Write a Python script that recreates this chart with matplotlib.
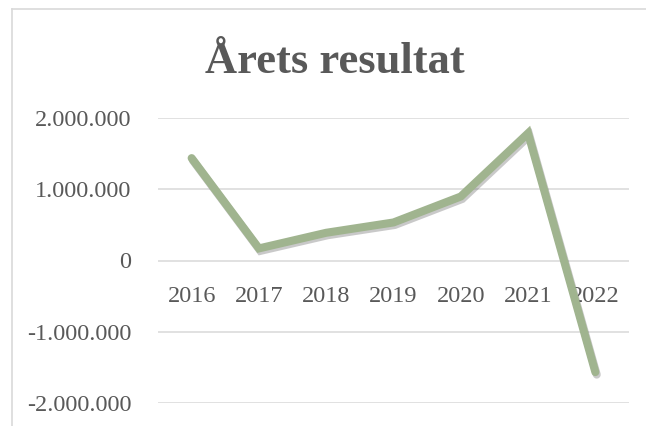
import matplotlib
matplotlib.use("Agg")
import matplotlib.pyplot as plt
import matplotlib.patheffects as pe
from matplotlib.lines import Line2D

years = ["2016", "2017", "2018", "2019", "2020", "2021", "2022"]
result = [1440000, 170000, 390000, 535000, 900000, 1790000, -1570000]
yticks = [-2000000, -1000000, 0, 1000000, 2000000]
ytick_labels = ["-2.000.000", "-1.000.000", "0", "1.000.000", "2.000.000"]

W, H = 646, 426
text_color = "#595959"
grid_color = "#D9D9D9"
line_color = "#A0B48F"
serif = ["Liberation Serif", "DejaVu Serif"]

fig = plt.figure(figsize=(W / 100, H / 100), dpi=100)
fig.patch.set_facecolor("white")

# chart area border (top and left visible, rest cropped)
fig.add_artist(Line2D([12 / W, 12 / W], [0, 1 - 9 / H], transform=fig.transFigure,
                      color=grid_color, lw=1.2))
fig.add_artist(Line2D([12 / W, 1], [1 - 9 / H, 1 - 9 / H], transform=fig.transFigure,
                      color=grid_color, lw=1.2))

# plot area
left, right = 158 / W, 629 / W
bottom, top = 1 - 402.7 / H, 1 - 118.3 / H
ax = fig.add_axes([left, bottom, right - left, top - bottom])
ax.set_xlim(-0.5, len(years) - 0.5)
ax.set_ylim(-2000000, 2000000)
for s in ax.spines.values():
    s.set_visible(False)
ax.set_xticks([])
ax.set_yticks(yticks)
ax.set_yticklabels(ytick_labels, fontfamily=serif, fontsize=17.5, color=text_color)
ax.tick_params(axis="y", length=0, pad=19)
for v in yticks:
    ax.axhline(v, color=grid_color, lw=1.1, zorder=1)

x = list(range(len(years)))
ax.plot(x, result, color=line_color, lw=5.8, solid_capstyle="round",
        solid_joinstyle="miter", zorder=3, clip_on=False,
        path_effects=[pe.SimpleLineShadow(offset=(1.0, -1.8), shadow_color="#404040", alpha=0.28),
                      pe.Normal()])

# category labels sit just below the zero line
for i, yr in enumerate(years):
    ax.annotate(yr, xy=(i, 0), xytext=(0, -36), textcoords="offset pixels",
                ha="center", va="center", fontfamily=serif, fontsize=17.5,
                color=text_color, zorder=2)

fig.text(335 / W, 1 - 72.7 / H, "Årets resultat", ha="center", va="baseline",
         fontfamily=serif, fontsize=32, fontweight="bold", color=text_color)

fig.savefig("out.png", dpi=100)
